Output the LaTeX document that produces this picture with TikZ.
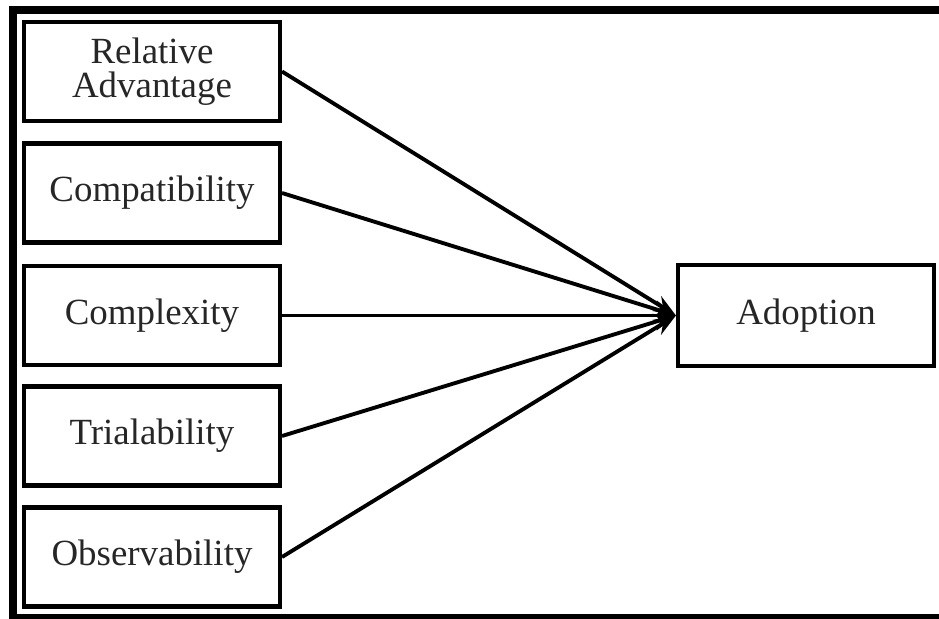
\documentclass[tikz,border=0pt]{standalone}
\usepackage{fontspec}
\setmainfont{Liberation Serif}
\usetikzlibrary{positioning, arrows.meta}
\tikzstyle{box} = [draw=black, rectangle, line width=2.3pt, minimum width=5.12cm, minimum height=1.98cm, align=center, font=\fontsize{21}{19.5}\selectfont, text=black!85]
\tikzstyle{myarrow} = [-{Stealth[length=0.45cm, width=0.34cm]}, line width=2.2pt, black]

\begin{document}
\begin{tikzpicture}[>=Stealth, node distance=2.43cm, auto]
	\useasboundingbox (0,0) rectangle (18.78,-12.38);
	
	% frame
	\draw[line width=4.5pt] (18.9,-0.2) -- (0.26,-0.2) -- (0.26,-12.36) -- (18.9,-12.36);
	
	% factors
	\node[box] at (3.04,-1.43) (relative) {Relative\\Advantage};
	\node[box, below of=relative] (compatibility) {Compatibility};
	\node[box, below of=compatibility, node distance=2.45cm] (complexity) {Complexity};
	\node[box, below of=complexity, node distance=2.41cm] (trialability) {Trialability};
	\node[box, below of=trialability, node distance=2.42cm] (observability) {Observability};
	
	% outcome
	\node[box, minimum height=2.02cm, right of=complexity, node distance=13.08cm] (adoption) {Adoption};
	
	% connections
	\draw [myarrow] (relative.east) -- (adoption.west);
	\draw [myarrow] (compatibility.east) -- (adoption.west);
	\draw [myarrow] (complexity.east) -- (adoption.west);
	\draw [myarrow] (trialability.east) -- (adoption.west);
	\draw [myarrow] (observability.east) -- (adoption.west);
	
\end{tikzpicture}
\end{document}
